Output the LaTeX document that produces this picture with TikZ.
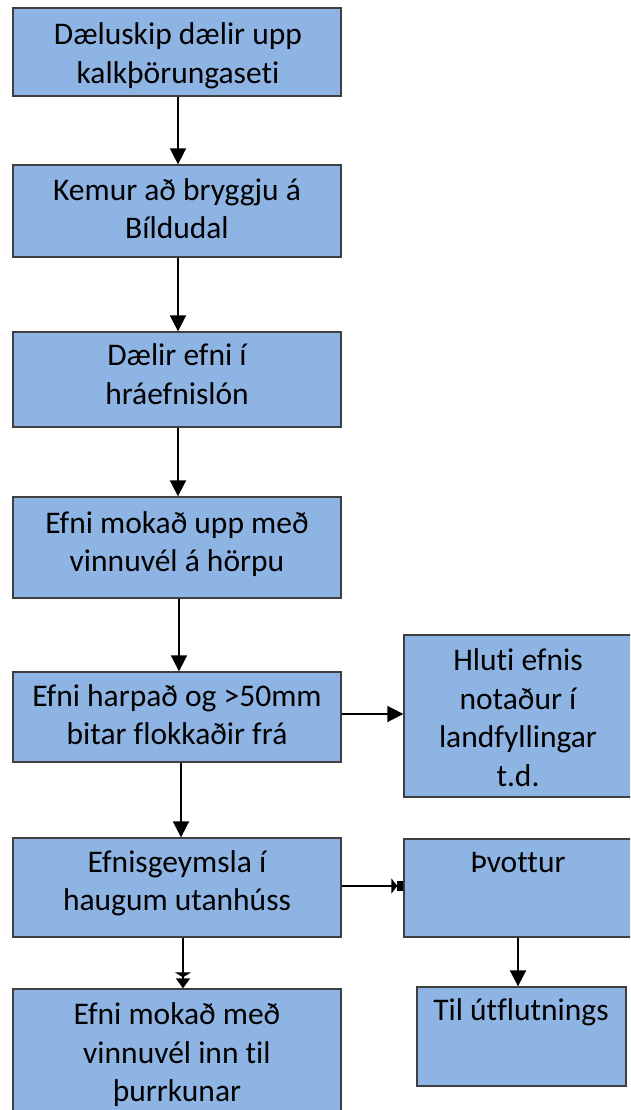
\documentclass[tikz,border=0pt]{standalone}
\usepackage{fontspec}
\setmainfont{Carlito}[Ligatures={NoCommon,NoContextual}]
\usetikzlibrary{arrows.meta}
\definecolor{boxfill}{HTML}{8EB4E3}
\definecolor{boxline}{HTML}{3F3F3F}
\tikzset{
  box/.style={draw=boxline, line width=1.3pt, fill=boxfill, rectangle, inner sep=0pt},
  txt/.style={inner sep=0pt, align=center, font=\fontsize{31.5}{38.5}\selectfont},
  arr/.style={line width=1.7pt, -{Triangle[length=16pt,width=16pt]}},
}
\begin{document}
\begin{tikzpicture}[x=1pt,y=-1pt]
\useasboundingbox (0,0) rectangle (630,1110);
\clip (0,0) rectangle (630,1110);
\fill[white] (0,0) rectangle (630,1110);
% boxes
\node[box, minimum width=328pt, minimum height=88pt]  (b1) at (177,52) {};
\node[box, minimum width=328pt, minimum height=92pt]  (b2) at (177,211) {};
\node[box, minimum width=328pt, minimum height=95pt]  (b3) at (177,379.5) {};
\node[box, minimum width=328pt, minimum height=101pt] (b4) at (177,547.5) {};
\node[box, minimum width=328pt, minimum height=90pt]  (b5) at (177,717) {};
\node[box, minimum width=328pt, minimum height=99pt]  (b6) at (177,887.5) {};
\node[box, minimum width=328pt, minimum height=140pt] (b7) at (177,1059) {};
\node[box, minimum width=228pt, minimum height=162pt] (bA) at (518,716) {};
\node[box, minimum width=228pt, minimum height=98pt]  (bB) at (518,888) {};
\node[box, minimum width=209pt, minimum height=99pt]  (bC) at (521.5,1036.5) {};
% texts
\node[txt] (t1) at (178,56.5) {\strut Dæluskip dælir upp\\\strut kalkþörungaseti};
\node[txt] (t2) at (177,212) {\strut Kemur að bryggju á\\\strut Bíldudal};
\node[txt] (t3) at (177,377.5) {\strut Dælir efni í\\\strut hráefnislón};
\node[txt] (t4) at (177,545) {\strut Efni mokað upp með\\\strut vinnuvél á hörpu};
\node[txt] (t5) at (177,718) {\strut Efni harpað og >50mm\\\strut bitar flokkaðir frá};
\node[txt] (t6) at (177,884) {\strut Efnisgeymsla í\\\strut haugum utanhúss};
\node[txt] (t7) at (177,1055.5) {\strut Efni mokað með\\\strut vinnuvél inn til\\\strut þurrkunar};
\node[txt] (tA) at (518,721) {\strut Hluti efnis\\\strut notaður í\\\strut landfyllingar\\\strut t.d.};
\node[txt] (tB) at (518,865) {\strut Þvottur};
\node[txt] (tC) at (521,1013) {\strut Til útflutnings};
% connectors
\draw[arr] ([xshift=1pt]b1.south) -- ([xshift=1pt]b2.north);
\draw[arr] ([xshift=1pt]b2.south) -- ([xshift=1pt]b3.north);
\draw[arr] ([xshift=1pt]b3.south) -- ([xshift=1pt]b4.north);
\draw[arr] ([xshift=2pt]b4.south) -- ([xshift=2pt]b5.north);
\draw[arr] ([xshift=4pt]b5.south) -- ([xshift=4pt]b6.north);
\draw[line width=1.7pt, -{Triangle[length=5pt,width=16pt,sep=1pt] Triangle[length=10pt,width=14pt]}]
  ([xshift=6pt]b6.south) -- ([xshift=6pt]b7.north);
\draw[arr] ([yshift=3pt]b5.east) -- ([yshift=3pt]b5.east -| bA.west);
\draw[line width=1.7pt, -{Triangle[length=6pt,width=15pt] Square[length=6pt,width=10pt]}]
  ([yshift=1.5pt]b6.east) -- ([yshift=1.5pt]b6.east -| bB.west);
\draw[arr] (bB.south) -- (bB.south |- bC.north);
\end{tikzpicture}
\end{document}
